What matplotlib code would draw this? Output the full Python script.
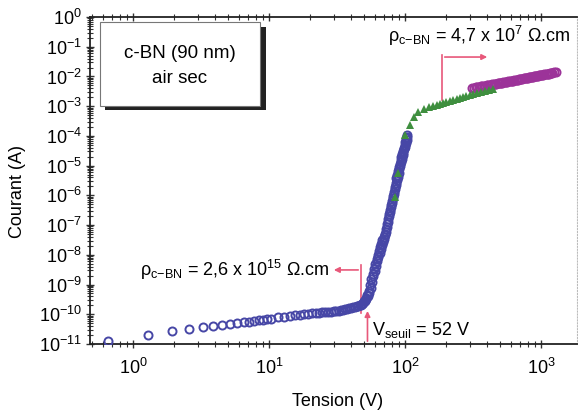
import numpy as np
import matplotlib
matplotlib.use("Agg")
import matplotlib.pyplot as plt
from matplotlib.patches import Rectangle
from matplotlib.ticker import LogLocator, NullFormatter

plt.rcParams['font.family'] = 'Liberation Sans'
plt.rcParams['mathtext.fontset'] = 'custom'
plt.rcParams['mathtext.rm'] = 'Liberation Sans'
plt.rcParams['mathtext.it'] = 'Liberation Sans:italic'
plt.rcParams['mathtext.bf'] = 'Liberation Sans:bold'

# blue open circles: low-field branch + threshold switching
v_blue = [0.65, 1.3, 1.95, 2.6, 3.25, 3.9, 4.55, 5.2, 5.85, 6.5, 7.15, 7.8, 8.45, 9.1, 9.75,
          10.4, 11.7, 13, 14.3, 15.6, 16.9, 18.2, 19.5, 20.8, 22.1, 23.4, 24.7, 26, 27.3,
          28.6, 29.9, 31.2, 32.5, 33.8, 35.1, 36.4, 37.7, 39, 40.3, 41.6, 42.9, 44.2, 45.5,
          46.8, 48.1, 49.4, 50.7, 52, 53.3, 54.6, 55.9, 57.2, 58.5, 59.8, 61.1, 62.4, 63.7,
          65, 66.3, 67.6, 68.9, 70.2, 71.5, 72.8, 74.1, 75.4, 76.7, 78, 79.3, 80.6, 81.9,
          83.2, 84.5, 85.8, 87.1, 88.4, 89.7, 91, 92.3, 93.6, 94.9, 96.2, 97.5, 98.8, 100.1,
          101.4, 102.7, 104]
i_blue = [1.26e-11, 2.0e-11, 2.7e-11, 3.2e-11, 3.7e-11, 4.1e-11, 4.4e-11, 4.7e-11, 5.0e-11,
          5.4e-11, 5.6e-11, 6.0e-11, 6.3e-11, 6.6e-11, 6.9e-11, 7.2e-11, 7.8e-11, 8.3e-11,
          8.7e-11, 9.1e-11, 9.5e-11, 1.0e-10, 1.02e-10, 1.07e-10, 1.10e-10, 1.12e-10,
          1.15e-10, 1.17e-10, 1.20e-10, 1.23e-10, 1.26e-10, 1.29e-10, 1.32e-10, 1.38e-10,
          1.41e-10, 1.48e-10, 1.51e-10, 1.58e-10, 1.66e-10, 1.74e-10, 1.78e-10, 1.86e-10,
          1.95e-10, 2.04e-10, 2.19e-10, 2.40e-10, 2.69e-10, 3.16e-10, 3.98e-10, 5.2e-10,
          7.9e-10, 1.26e-9, 1.9e-9, 2.8e-9, 4.2e-9, 6.0e-9, 8.5e-9, 1.17e-8, 1.58e-8, 2.1e-8,
          2.75e-8, 3.5e-8, 4.5e-8, 6.0e-8, 8.9e-8, 1.32e-7, 2.0e-7, 2.8e-7, 4.0e-7, 5.6e-7,
          7.9e-7, 1.12e-6, 1.58e-6, 2.24e-6, 3.2e-6, 4.2e-6, 5.6e-6, 7.6e-6, 1.0e-5, 1.32e-5,
          1.7e-5, 2.2e-5, 2.75e-5, 3.5e-5, 4.4e-5, 5.6e-5, 7.4e-5, 9.5e-5]

# blue circles of the second (denser) pass across the switching region
v_blue2 = [47.5, 50, 51.4, 52.7, 54, 55.3, 56.6, 57.9, 59.2, 60.5, 61.8, 63, 64.3, 65.6,
           67, 68.2, 69.6, 70.8, 72.2, 73.4, 74.8, 76, 77.4, 78.6, 80, 81.2, 82.6, 83.8,
           85.2, 86.4, 87.8, 89, 90.4, 91.6, 93, 94.2, 95.6, 96.8, 98.2, 99.4, 100.8, 102, 103.4]
i_blue2 = [2.1e-10, 2.9e-10, 3.5e-10, 4.4e-10, 6.3e-10, 9.8e-10, 1.55e-9, 2.3e-9, 3.4e-9,
           5.0e-9, 7.1e-9, 1.0e-8, 1.35e-8, 1.8e-8, 2.4e-8, 3.1e-8, 3.9e-8, 5.1e-8, 7.2e-8,
           1.08e-7, 1.6e-7, 2.4e-7, 3.3e-7, 4.7e-7, 6.6e-7, 9.4e-7, 1.33e-6, 1.9e-6, 2.7e-6,
           3.7e-6, 4.8e-6, 6.5e-6, 8.7e-6, 1.15e-5, 1.5e-5, 1.95e-5, 2.45e-5, 3.1e-5, 3.9e-5,
           5.0e-5, 6.4e-5, 8.3e-5, 1.05e-4]

# green filled triangles
v_green = [84.3, 88.8, 99.6, 108.7, 116, 124, 137, 150, 161, 172, 181, 190, 201, 213, 226,
           240, 253, 266, 283, 300, 318, 337, 360, 386, 413, 443]
i_green = [8.9e-7, 5.8e-6, 1.1e-4, 2.3e-4, 4.2e-4, 6.5e-4, 8.2e-4, 9.5e-4, 1.04e-3, 1.12e-3,
           1.2e-3, 1.29e-3, 1.4e-3, 1.5e-3, 1.64e-3, 1.78e-3, 1.95e-3, 2.1e-3, 2.25e-3,
           2.4e-3, 2.6e-3, 2.8e-3, 3.05e-3, 3.3e-3, 3.6e-3, 3.9e-3]

# purple open circles: high-field branch
v_purple = [310, 320, 330, 340, 350, 360, 370, 380, 390, 400, 410, 420, 430, 440, 450, 460,
            470, 480, 490, 500, 510, 520, 530, 540, 550, 562, 575, 588, 600, 612, 625, 638,
            650, 662, 675, 688, 700, 715, 730, 745, 760, 775, 790, 805, 820, 835, 850, 865,
            880, 895, 910, 925, 940, 955, 970, 985, 1000, 1020, 1040, 1060, 1080, 1100, 1120,
            1140, 1160, 1180, 1200, 1250, 1300]
i_purple = [4.1e-3, 4.2e-3, 4.3e-3, 4.4e-3, 4.5e-3, 4.6e-3, 4.7e-3, 4.8e-3, 4.9e-3, 5.0e-3,
            5.1e-3, 5.2e-3, 5.3e-3, 5.4e-3, 5.5e-3, 5.6e-3, 5.7e-3, 5.8e-3, 5.9e-3, 6.0e-3,
            6.1e-3, 6.2e-3, 6.3e-3, 6.4e-3, 6.5e-3, 6.65e-3, 6.8e-3, 6.95e-3, 7.1e-3, 7.2e-3,
            7.3e-3, 7.45e-3, 7.6e-3, 7.7e-3, 7.8e-3, 7.95e-3, 8.1e-3, 8.25e-3, 8.4e-3, 8.55e-3,
            8.7e-3, 8.85e-3, 9.0e-3, 9.15e-3, 9.3e-3, 9.45e-3, 9.6e-3, 9.75e-3, 9.9e-3,
            1.005e-2, 1.02e-2, 1.035e-2, 1.05e-2, 1.065e-2, 1.08e-2, 1.095e-2, 1.11e-2,
            1.13e-2, 1.15e-2, 1.17e-2, 1.19e-2, 1.21e-2, 1.23e-2, 1.25e-2, 1.27e-2, 1.29e-2,
            1.31e-2, 1.36e-2, 1.41e-2]

blue = '#4747a6'
green = '#3f8f3f'
purple = '#9c3399'
pink = '#e8587a'

fig = plt.figure(figsize=(5.78, 4.16), dpi=100)
ax = fig.add_axes([90 / 578, 72 / 416, 487 / 578, 327 / 416])

ax.plot(v_blue, i_blue, 'o', mfc='none', mec=blue, ms=5.8, mew=1.4, zorder=3)
ax.plot(v_blue2, i_blue2, 'o', mfc='none', mec=blue, ms=5.8, mew=1.4, zorder=3)
ax.plot(v_purple, i_purple, 'o', mfc='none', mec=purple, ms=5.8, mew=1.4, zorder=3)
ax.plot(v_green, i_green, '^', color=green, ms=6.2, mew=0, zorder=4)

ax.set_xscale('log')
ax.set_yscale('log')
ax.set_xlim(0.483, 1840)
ax.set_ylim(1e-11, 1)

ax.xaxis.set_major_locator(LogLocator(base=10, numticks=10))
ax.xaxis.set_minor_locator(LogLocator(base=10, subs=np.arange(2, 10), numticks=20))
ax.xaxis.set_minor_formatter(NullFormatter())
ax.yaxis.set_major_locator(LogLocator(base=10, numticks=20))
ax.yaxis.set_minor_locator(LogLocator(base=10, subs=np.arange(2, 10), numticks=40))
ax.yaxis.set_minor_formatter(NullFormatter())

ax.tick_params(axis='both', which='both', direction='inout', labelsize=13, color='#333333')
ax.tick_params(axis='x', which='major', length=6, width=1, pad=7, top=True)
ax.tick_params(axis='x', which='minor', length=4, width=0.8, top=True)
ax.tick_params(axis='y', which='major', length=6, width=1, pad=3)
ax.tick_params(axis='y', which='minor', length=4, width=0.8)

for side in ['left', 'bottom', 'top']:
    ax.spines[side].set_linewidth(1.3)
    ax.spines[side].set_color('#222222')
ax.spines['right'].set_color('#bbbbbb')
ax.spines['right'].set_linestyle(':')

# resistivity markers
ax.plot([187, 187], [0.054, 1.66e-3], color=pink, lw=1.2)
ax.annotate('', xy=(422, 0.045), xytext=(187, 0.045),
            arrowprops=dict(arrowstyle='-|>', color=pink, lw=1.2, mutation_scale=8))
ax.text(75, 0.148, r'ρ$_{\rm c{-}BN}$ = 4,7 x 10$^{7}$ Ω.cm', fontsize=13, ha='left', va='baseline')

ax.plot([47.5, 47.5], [4.6e-9, 1.1e-10], color=pink, lw=1.2)
ax.annotate('', xy=(28.6, 3.1e-9), xytext=(47.5, 3.1e-9),
            arrowprops=dict(arrowstyle='-|>', color=pink, lw=1.2, mutation_scale=8))
ax.text(1.13, 1.95e-9, r'ρ$_{\rm c{-}BN}$ = 2,6 x 10$^{15}$ Ω.cm', fontsize=13, ha='left', va='baseline')

ax.annotate('', xy=(53, 1.6e-10), xytext=(53, 1e-11),
            arrowprops=dict(arrowstyle='-|>', color=pink, lw=1.2, mutation_scale=8))
ax.text(57.2, 2.0e-11, r'V$_{\rm seuil}$ = 52 V', fontsize=13, ha='left', va='baseline')

# sample box with drop shadow
fig.patches.append(Rectangle((105 / 578, 1 - 110 / 416), 161 / 578, 83 / 416,
                             transform=fig.transFigure, facecolor='#222222', edgecolor='none', zorder=5))
fig.patches.append(Rectangle((100 / 578, 1 - 106 / 416), 160 / 578, 84 / 416,
                             transform=fig.transFigure, facecolor='white', edgecolor='#777777', lw=0.8, zorder=6))
fig.text(180 / 578, 1 - 58 / 416, 'c-BN (90 nm)', fontsize=13.5, ha='center', va='baseline', zorder=7)
fig.text(180 / 578, 1 - 83 / 416, 'air sec', fontsize=13.5, ha='center', va='baseline', zorder=7)

fig.text(18 / 578, 1 - 191 / 416, 'Courant (A)', fontsize=13, rotation=90, ha='center', va='center')
fig.text(338 / 578, 1 - 402 / 416, 'Tension (V)', fontsize=13, ha='center', va='center')

fig.savefig('out.png', dpi=100)
